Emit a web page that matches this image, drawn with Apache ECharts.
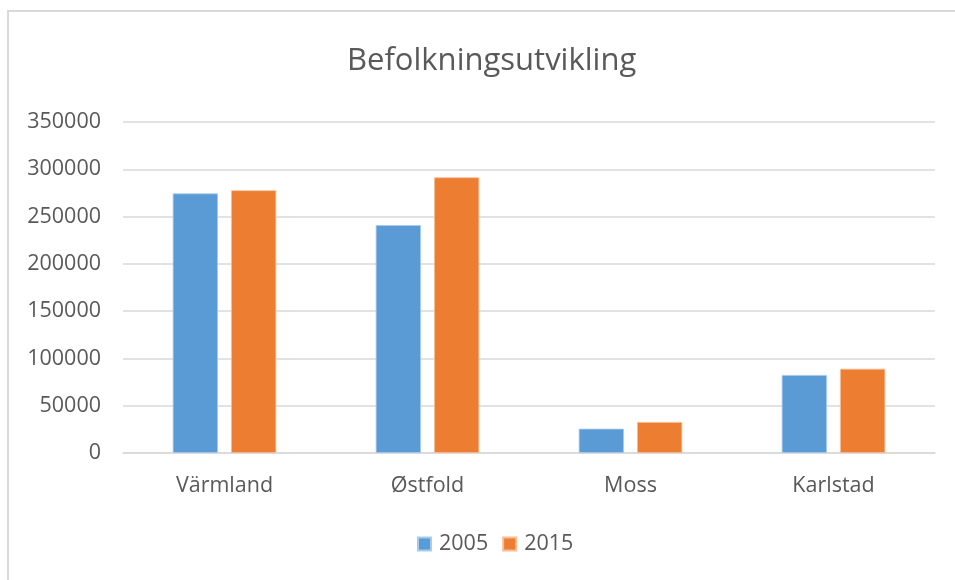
<!DOCTYPE html>
<html>
<head>
<meta charset="utf-8">
<script src="https://cdn.jsdelivr.net/npm/echarts@6/dist/echarts.min.js"></script>
<style>
html,body{margin:0;padding:0;background:#fff;}
#frame{position:absolute;left:7px;top:10px;width:1000px;height:700px;border-left:2px solid #d9d9d9;border-top:2px solid #d9d9d9;box-sizing:border-box;}
#main{position:absolute;left:0;top:0;width:955px;height:580px;}
</style>
</head>
<body>
<div id="frame"></div>
<div id="main"></div>
<script>
var titleText = 'Befolkningsutvikling';
var categories = ['Värmland', 'Østfold', 'Moss', 'Karlstad'];
var seriesNames = ['2005', '2015'];
var values2005 = [274500, 241000, 25700, 82500];
var values2015 = [277800, 291500, 32800, 89100];

var chart = echarts.init(document.getElementById('main'));
var font = 'Open Sans';
chart.setOption({
  backgroundColor: 'transparent',
  title: {
    text: titleText,
    left: 342,
    top: 41,
    textStyle: {fontFamily: font, fontSize: 31, fontWeight: 'normal', color: '#595959'}
  },
  legend: {
    data: seriesNames,
    bottom: 20,
    left: 412,
    itemWidth: 13,
    itemHeight: 13,
    itemGap: 14,
    icon: 'rect',
    textStyle: {fontFamily: font, fontSize: 21.5, color: '#595959', padding: [0, 0, 0, 3]}
  },
  grid: {left: 123, right: 20, top: 122, bottom: 127},
  xAxis: {
    type: 'category',
    data: categories,
    axisLine: {show: true, lineStyle: {color: '#d9d9d9', width: 1.5}},
    axisTick: {show: false},
    axisLabel: {fontFamily: font, fontSize: 21.5, color: '#595959', margin: 22}
  },
  yAxis: {
    type: 'value',
    min: 0,
    max: 350000,
    interval: 50000,
    axisLine: {show: false},
    axisTick: {show: false},
    splitLine: {lineStyle: {color: '#d9d9d9', width: 1.5}},
    axisLabel: {fontFamily: font, fontSize: 21.5, color: '#595959', margin: 22,
      formatter: function (v) { return String(v); }}
  },
  series: [
    {name: seriesNames[0], type: 'bar', data: values2005, barGap: '29%', barCategoryGap: '49%',
     itemStyle: {color: '#5B9BD5', borderColor: '#a9cbea', borderWidth: 0.8}},
    {name: seriesNames[1], type: 'bar', data: values2015, barGap: '29%', barCategoryGap: '49%',
     itemStyle: {color: '#ED7D31', borderColor: '#f6bf98', borderWidth: 0.8}}
  ],
  animation: false
});
</script>
</body>
</html>
